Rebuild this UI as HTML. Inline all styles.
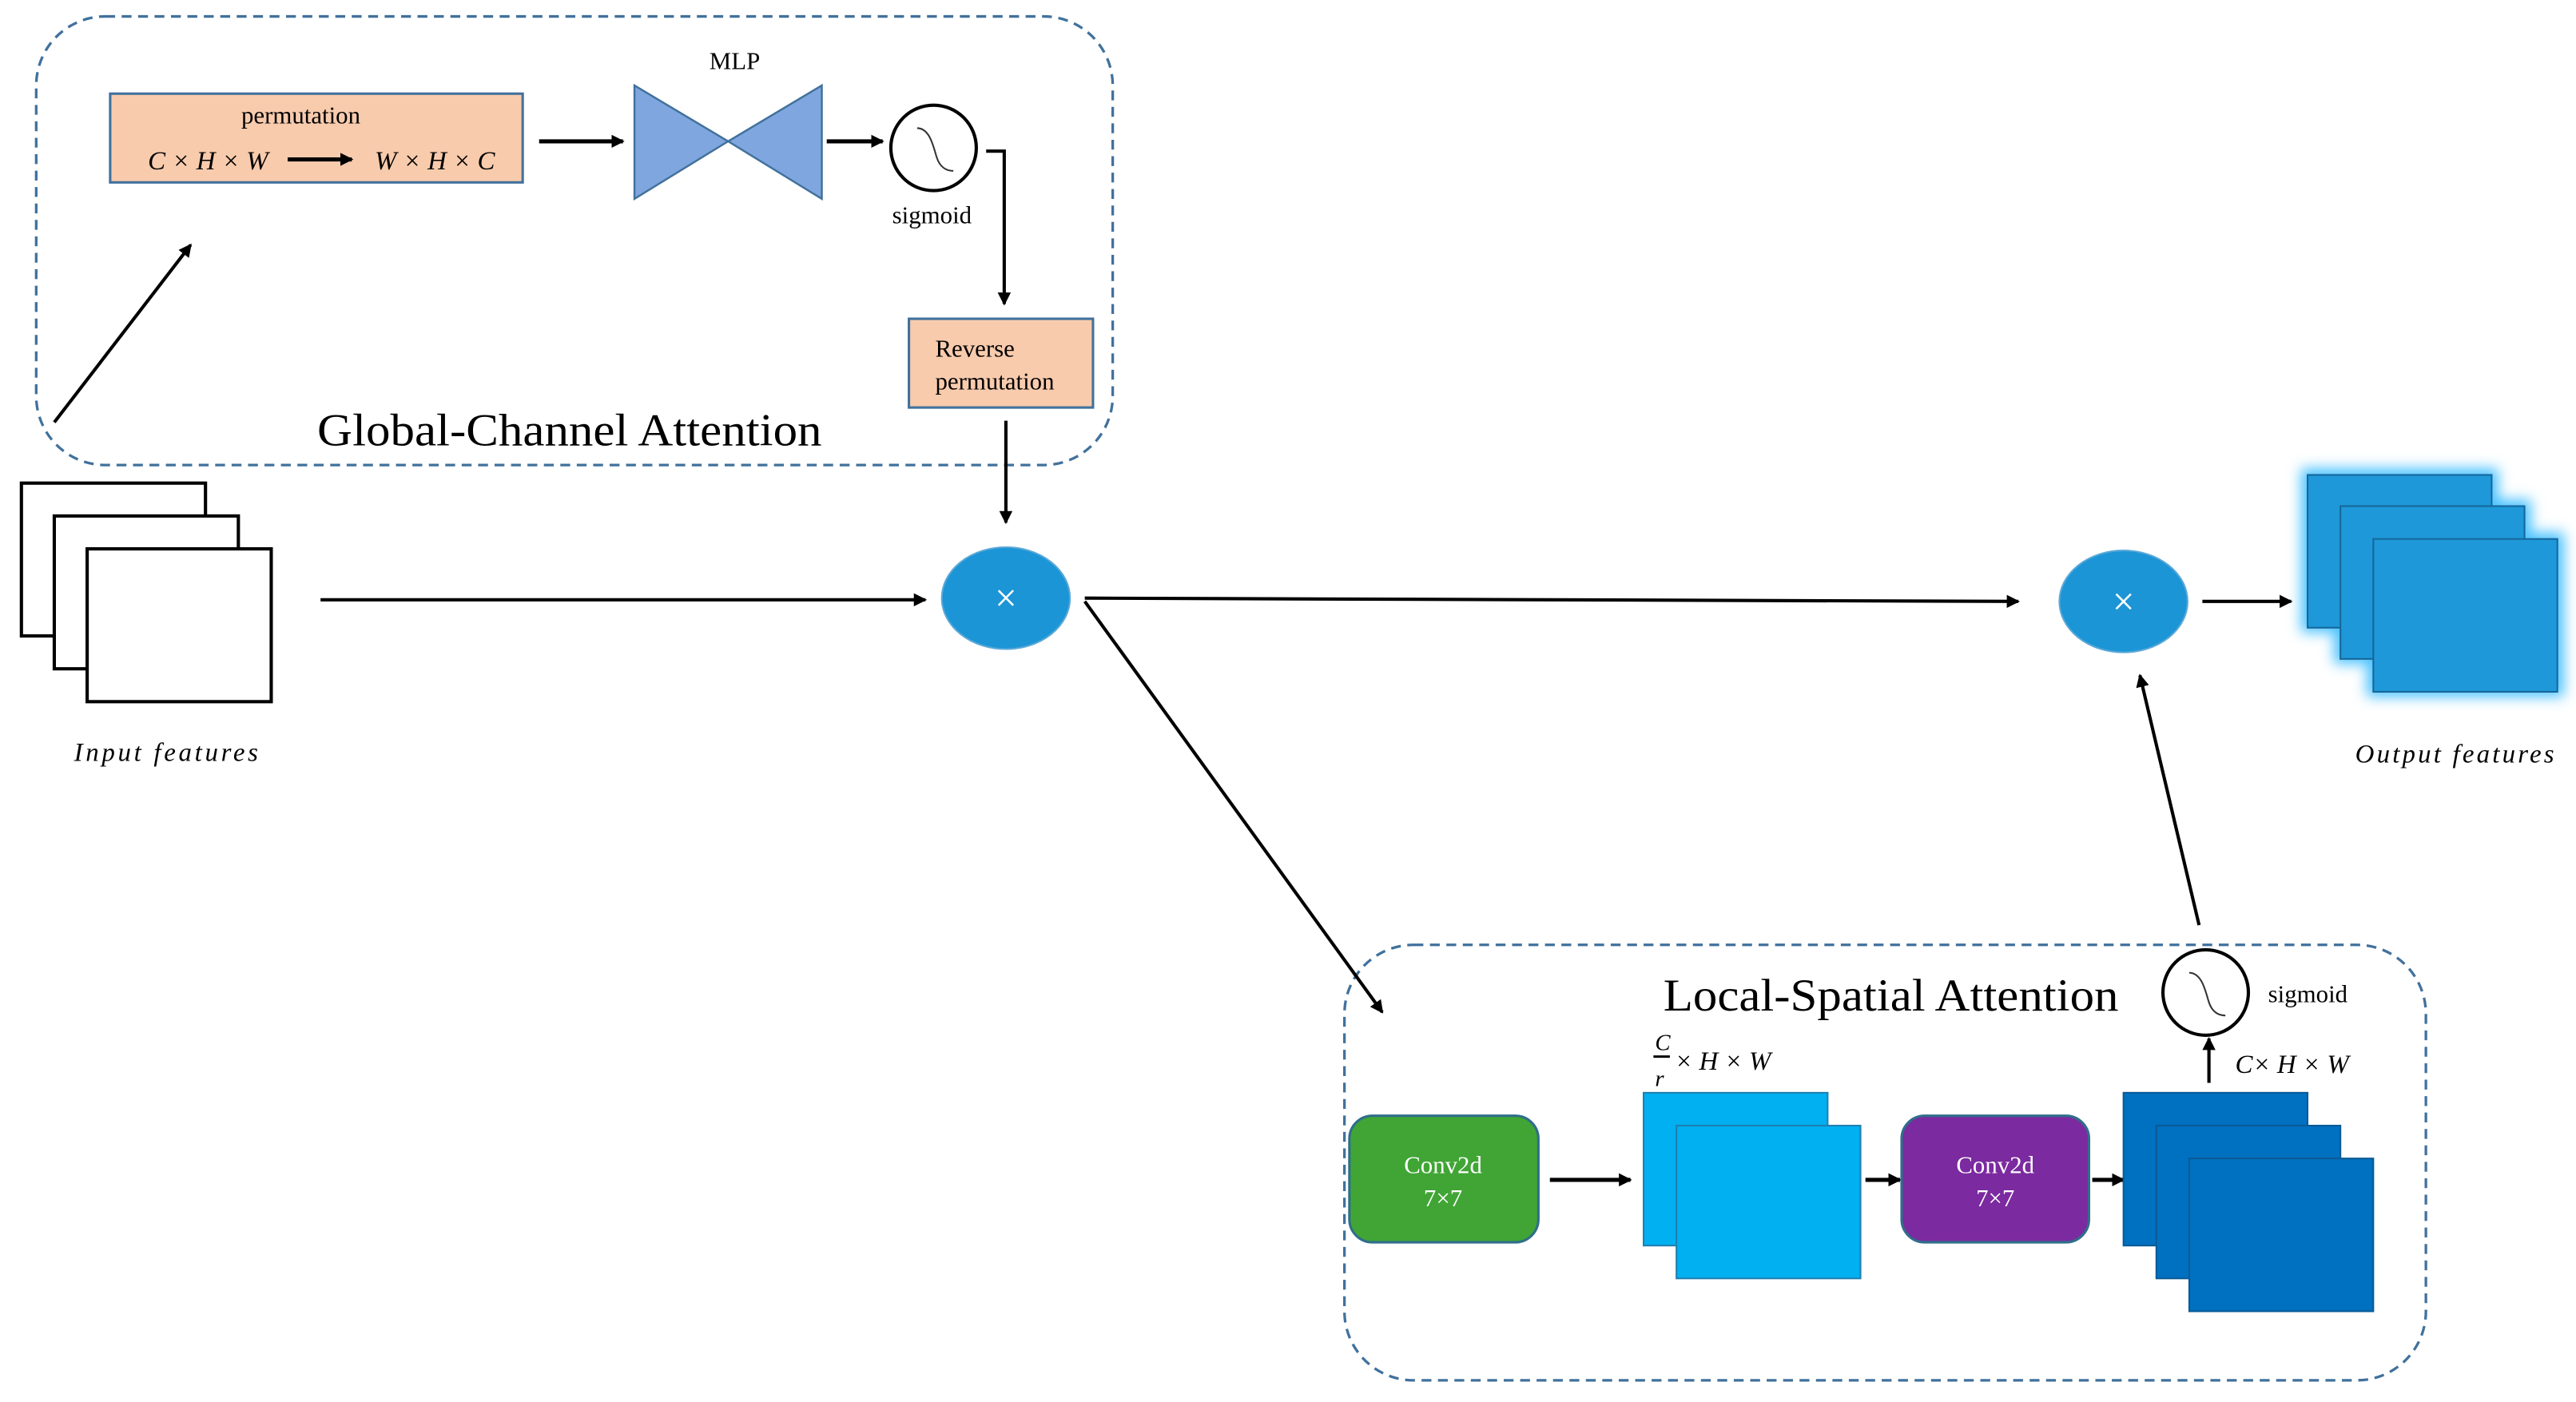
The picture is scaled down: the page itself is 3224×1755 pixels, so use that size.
<!DOCTYPE html>
<html><head><meta charset="utf-8"><style>
html,body{margin:0;padding:0;background:#fff;}
svg{display:block;}
text{font-family:"Liberation Serif",serif;}
</style></head><body>
<svg width="3224" height="1755" viewBox="0 0 1567.3 853.2" xmlns="http://www.w3.org/2000/svg">
<defs>
<marker id="a" markerWidth="8" markerHeight="8" refX="7" refY="4" orient="auto" markerUnits="userSpaceOnUse"><path d="M0,0 L8,4 L0,8 z" fill="#000"/></marker>
<filter id="g" x="-20%" y="-20%" width="140%" height="140%"><feGaussianBlur stdDeviation="4"/></filter>
</defs>
<g fill="none" stroke="#41719c" stroke-width="1.6" stroke-dasharray="6,4">
<rect x="22" y="10" width="655" height="273" rx="42"/>
<rect x="818" y="575" width="658" height="265" rx="42"/>
</g>
<rect x="67" y="57" width="251" height="54" fill="#f8cbad" stroke="#41719c" stroke-width="1.5"/>
<text x="183" y="75" font-size="15" text-anchor="middle">permutation</text>
<text x="90" y="103" font-size="16" font-style="italic">C × H × W</text>
<line x1="175" y1="97" x2="214" y2="97" stroke="#000" stroke-width="2.5" marker-end="url(#a)"/>
<text x="228" y="103" font-size="16" font-style="italic">W × H × C</text>
<line x1="328" y1="86" x2="379" y2="86" stroke="#000" stroke-width="2.5" marker-end="url(#a)"/>
<polygon points="386,52 443,86 386,121" fill="#7fa6de" stroke="#41719c" stroke-width="1.2"/>
<polygon points="500,52 443,86 500,121" fill="#7fa6de" stroke="#41719c" stroke-width="1.2"/>
<text x="447" y="42" font-size="15" text-anchor="middle">MLP</text>
<line x1="503" y1="86" x2="537" y2="86" stroke="#000" stroke-width="2.5" marker-end="url(#a)"/>
<circle cx="568" cy="90" r="26" fill="#fff" stroke="#000" stroke-width="2"/>
<path d="M558,78 C566,78 568,90 570,96 C572,102 576,104 580,104" fill="none" stroke="#333" stroke-width="1"/>
<text x="567" y="136" font-size="15" text-anchor="middle">sigmoid</text>
<polyline points="600,92 611,92 611,185" fill="none" stroke="#000" stroke-width="2" marker-end="url(#a)"/>
<rect x="553" y="194" width="112" height="54" fill="#f8cbad" stroke="#41719c" stroke-width="1.5"/>
<text x="569" y="217" font-size="15">Reverse</text>
<text x="569" y="237" font-size="15">permutation</text>
<text x="193" y="271" font-size="28" textLength="307" lengthAdjust="spacingAndGlyphs">Global-Channel Attention</text>
<line x1="612" y1="256" x2="612" y2="318" stroke="#000" stroke-width="2" marker-end="url(#a)"/>
<line x1="33" y1="257" x2="116" y2="149" stroke="#000" stroke-width="2" marker-end="url(#a)"/>
<g fill="#fff" stroke="#000" stroke-width="2">
<rect x="13" y="294" width="112" height="93"/>
<rect x="33" y="314" width="112" height="93"/>
<rect x="53" y="334" width="112" height="93"/>
</g>
<text x="45" y="463" font-size="16" font-style="italic" textLength="112" lengthAdjust="spacing">Input features</text>
<line x1="195" y1="365" x2="563" y2="365" stroke="#000" stroke-width="2" marker-end="url(#a)"/>
<ellipse cx="612" cy="364" rx="39" ry="31" fill="#1b95d6" stroke="#5aa8d8" stroke-width="1"/>
<text x="612" y="372" font-size="24" fill="#fff" text-anchor="middle" font-family="Liberation Sans,sans-serif">×</text>
<line x1="660" y1="364" x2="1228" y2="366" stroke="#000" stroke-width="2" marker-end="url(#a)"/>
<line x1="660" y1="366" x2="841" y2="616" stroke="#000" stroke-width="2" marker-end="url(#a)"/>
<ellipse cx="1292" cy="366" rx="39" ry="31" fill="#1b95d6" stroke="#5aa8d8" stroke-width="1"/>
<text x="1292" y="374" font-size="24" fill="#fff" text-anchor="middle" font-family="Liberation Sans,sans-serif">×</text>
<line x1="1340" y1="366" x2="1394" y2="366" stroke="#000" stroke-width="2" marker-end="url(#a)"/>
<g fill="#4cc2ff" filter="url(#g)">
<rect x="1400" y="285" width="120" height="100"/>
<rect x="1420" y="304" width="120" height="100"/>
<rect x="1440" y="324" width="120" height="100"/>
</g>
<g fill="#1e98d8" stroke="#16679a" stroke-width="1">
<rect x="1404" y="289" width="112" height="93"/>
<rect x="1424" y="308" width="112" height="93"/>
<rect x="1444" y="328" width="112" height="93"/>
</g>
<text x="1433" y="464" font-size="16" font-style="italic" textLength="121" lengthAdjust="spacing">Output features</text>
<text x="1012" y="615" font-size="28" textLength="277" lengthAdjust="spacingAndGlyphs">Local-Spatial Attention</text>
<circle cx="1342" cy="604" r="26" fill="#fff" stroke="#000" stroke-width="2"/>
<path d="M1332,592 C1340,592 1342,604 1344,610 C1346,616 1350,618 1354,618" fill="none" stroke="#333" stroke-width="1"/>
<text x="1380" y="610" font-size="15">sigmoid</text>
<line x1="1338" y1="563" x2="1302" y2="411" stroke="#000" stroke-width="2" marker-end="url(#a)"/>
<line x1="1344" y1="659" x2="1344" y2="632" stroke="#000" stroke-width="2" marker-end="url(#a)"/>
<text x="1360" y="653" font-size="16" font-style="italic">C× H × W</text>
<rect x="821" y="679" width="115" height="77" rx="14" fill="#40a535" stroke="#2f6e8a" stroke-width="1.5"/>
<text x="878" y="714" font-size="15" fill="#fff" text-anchor="middle">Conv2d</text>
<text x="878" y="734" font-size="15" fill="#fff" text-anchor="middle">7×7</text>
<line x1="943" y1="718" x2="992" y2="718" stroke="#000" stroke-width="2.5" marker-end="url(#a)"/>
<g fill="#00b0f0" stroke="#1f7fb0" stroke-width="1">
<rect x="1000" y="665" width="112" height="93"/>
<rect x="1020" y="685" width="112" height="93"/>
</g>
<text x="1007" y="639" font-size="14" font-style="italic">C</text>
<line x1="1006" y1="643" x2="1016" y2="643" stroke="#000" stroke-width="1.5"/>
<text x="1007" y="661" font-size="14" font-style="italic">r</text>
<text x="1019" y="651" font-size="16" font-style="italic">× H × W</text>
<line x1="1135" y1="718" x2="1156" y2="718" stroke="#000" stroke-width="2.5" marker-end="url(#a)"/>
<rect x="1157" y="679" width="114" height="77" rx="14" fill="#7b2aa0" stroke="#2f6e8a" stroke-width="1.5"/>
<text x="1214" y="714" font-size="15" fill="#fff" text-anchor="middle">Conv2d</text>
<text x="1214" y="734" font-size="15" fill="#fff" text-anchor="middle">7×7</text>
<line x1="1273" y1="718" x2="1292" y2="718" stroke="#000" stroke-width="2.5" marker-end="url(#a)"/>
<g fill="#0070c0" stroke="#0a5a96" stroke-width="1">
<rect x="1292" y="665" width="112" height="93"/>
<rect x="1312" y="685" width="112" height="93"/>
<rect x="1332" y="705" width="112" height="93"/>
</g>
</svg>
</body></html>
